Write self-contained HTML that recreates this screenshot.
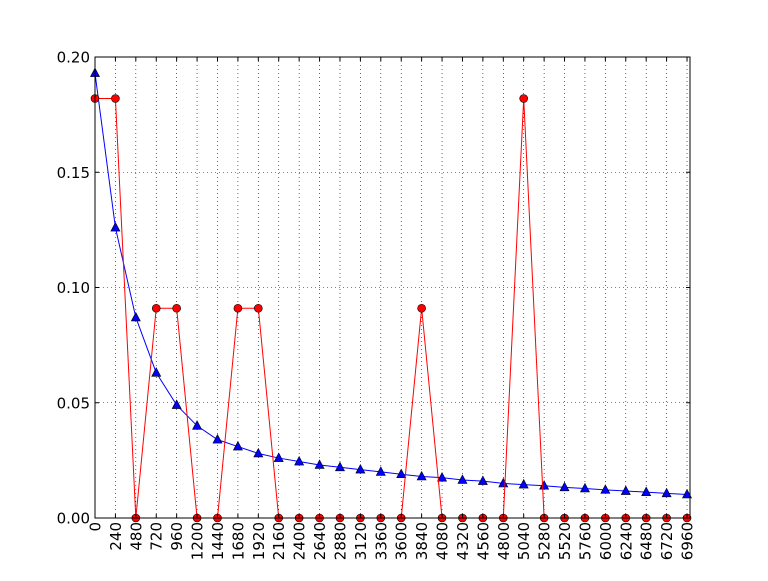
<!DOCTYPE html>
<html><head><meta charset="utf-8"><style>
body{margin:0;background:#fff;}
svg text{font-family:"DejaVu Sans","Liberation Sans",sans-serif;font-size:15px;fill:#000;}
</style></head><body>
<svg id="chart" width="768" height="576"></svg>
<script>
const xCats=[0,240,480,720,960,1200,1440,1680,1920,2160,2400,2640,2880,3120,3360,3600,3840,4080,4320,4560,4800,5040,5280,5520,5760,6000,6240,6480,6720,6960];
const redVals=[0.182,0.182,0,0.091,0.091,0,0,0.091,0.091,0,0,0,0,0,0,0,0.091,0,0,0,0,0.182,0,0,0,0,0,0,0,0];
const blueVals=[0.193,0.126,0.087,0.063,0.049,0.040,0.034,0.031,0.028,0.026,0.0245,0.023,0.022,0.021,0.020,0.019,0.018,0.0175,0.0165,0.016,0.015,0.0145,0.014,0.0133,0.0128,0.0122,0.0117,0.0112,0.0107,0.0102];
const yTicks=[0,0.05,0.10,0.15,0.20];
const yLabels=["0.00","0.05","0.10","0.15","0.20"];
const L=95,R=690,T=57,B=518,XMAX=6995,YMAX=0.2;
const sx=v=>L+v/XMAX*(R-L), sy=v=>B-v/YMAX*(B-T);
const svg=document.getElementById('chart');const NS='http://www.w3.org/2000/svg';
function mk(t,a,p){const e=document.createElementNS(NS,t);for(const k in a)e.setAttribute(k,a[k]);(p||svg).appendChild(e);return e;}
xCats.forEach(v=>{const g=mk('line',{x1:sx(v),x2:sx(v),y1:T,y2:B,stroke:'#000','stroke-width':0.6,'stroke-dasharray':'1,3'});

});
yTicks.forEach(v=>{const g=mk('line',{x1:L,x2:R,y1:sy(v),y2:sy(v),stroke:'#000','stroke-width':0.6,'stroke-dasharray':'1,3'});

});
const bl=mk('polyline',{points:xCats.map((x,i)=>sx(x)+','+sy(blueVals[i])).join(' '),fill:'none',stroke:'#0000ff','stroke-width':1});


xCats.forEach((x,i)=>{const cx=sx(x),cy=sy(blueVals[i]);const p=mk('polygon',{points:`${cx},${cy-5} ${cx-4.5},${cy+3.5} ${cx+4.5},${cy+3.5}`,fill:'#0000ff',stroke:'#000','stroke-width':0.6});

});
const rl=mk('polyline',{points:xCats.map((x,i)=>sx(x)+','+sy(redVals[i])).join(' '),fill:'none',stroke:'#ff0000','stroke-width':1});


xCats.forEach((x,i)=>{const c=mk('circle',{cx:sx(x),cy:sy(redVals[i]),r:4,fill:'#ff0000',stroke:'#000','stroke-width':0.6});

});
const f=mk('rect',{x:L,y:T,width:R-L,height:B-T,fill:'none',stroke:'#000','stroke-width':1});


xCats.forEach(v=>{const x=sx(v);
mk('line',{x1:x,x2:x,y1:B,y2:B-4,stroke:'#000'});mk('line',{x1:x,x2:x,y1:T,y2:T+4,stroke:'#000'});
const t=mk('text',{x:0,y:0,'text-anchor':'end',transform:`translate(${x+5.5},${B+4}) rotate(-90)`});t.textContent=v;

});
yTicks.forEach((v,i)=>{const y=sy(v);
mk('line',{x1:L,x2:L+4,y1:y,y2:y,stroke:'#000'});mk('line',{x1:R,x2:R-4,y1:y,y2:y,stroke:'#000'});
const t=mk('text',{x:L-5,y:y+5.5,'text-anchor':'end'});t.textContent=yLabels[i];

});
</script>
</body></html>
